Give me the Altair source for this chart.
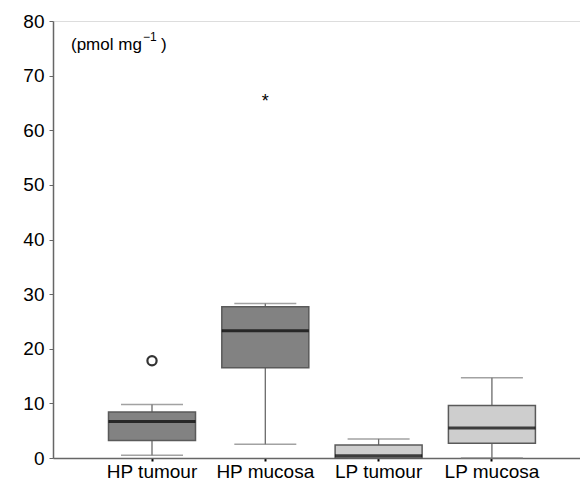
import altair as alt
import pandas as pd

groups = ["HP tumour", "HP mucosa", "LP tumour", "LP mucosa"]
whisker_low = [0.5, 2.5, 0.0, 0.0]
q1 = [3.2, 16.5, 0.0, 2.7]
median = [6.7, 23.3, 0.4, 5.5]
q3 = [8.4, 27.7, 2.4, 9.6]
whisker_high = [9.8, 28.3, 3.5, 14.7]
fills = ["#828282", "#828282", "#cecece", "#cecece"]

outlier_groups = ["HP tumour"]
outlier_values = [17.8]
extreme_groups = ["HP mucosa"]
extreme_values = [66.1]

unit_text = ["(pmol mg", "\u22121", ")"]

df = pd.DataFrame({
    "group": groups, "lo": whisker_low, "q1": q1, "med": median,
    "q3": q3, "hi": whisker_high, "fill": fills,
})
df_out = pd.DataFrame({"group": outlier_groups, "v": outlier_values})
df_ext = pd.DataFrame({"group": extreme_groups, "v": extreme_values})
one = pd.DataFrame({"k": [0]})

xenc = alt.X("group:N", sort=groups,
             scale=alt.Scale(domain=groups, paddingInner=0, paddingOuter=0.3256, align=0.574),
             axis=alt.Axis(title=None, labelAngle=0, labelFontSize=19, labelColor="black",
                           labelPadding=1, tickSize=3, tickColor="black", tickWidth=2,
                           domainColor="#666666", domainWidth=1.5,
                           labelFont="Liberation Sans"))
yscale = alt.Scale(domain=[0, 80], nice=False)
yaxis = alt.Axis(title=None, values=list(range(0, 81, 10)), grid=False, labelFontSize=19,
                 labelColor="black", labelPadding=5, tickSize=4, tickColor="#666666",
                 domainColor="#666666", domainWidth=1.5, labelFont="Liberation Sans")

base = alt.Chart(df)

whisk = base.mark_rule(color="#6a6a6a", strokeWidth=1.3).encode(
    x=xenc, y=alt.Y("lo:Q", scale=yscale, axis=yaxis), y2="hi:Q")
caps_hi = base.mark_tick(color="#7a7a7a", size=62, thickness=1.5).encode(
    x=xenc, y=alt.Y("hi:Q", scale=yscale))
caps_lo = base.mark_tick(color="#7a7a7a", size=62, thickness=1.5).encode(
    x=xenc, y=alt.Y("lo:Q", scale=yscale))
box = base.mark_bar(size=87, stroke="#5a5a5a", strokeWidth=1.5).encode(
    x=xenc, y=alt.Y("q1:Q", scale=yscale), y2="q3:Q",
    fill=alt.Fill("fill:N", scale=None, legend=None))
med = base.mark_tick(color="black", size=87, thickness=3).encode(
    x=xenc, y=alt.Y("med:Q", scale=yscale))

outl = alt.Chart(df_out).mark_point(shape="circle", filled=False, size=85,
                                     stroke="#333333", strokeWidth=2.2, opacity=1).encode(
    x=xenc, y=alt.Y("v:Q", scale=yscale))
ext = alt.Chart(df_ext).mark_text(text="*", fontSize=18, color="black", baseline="middle",
                                   dy=5, font="Liberation Sans").encode(
    x=xenc, y=alt.Y("v:Q", scale=yscale))

unit1 = alt.Chart(one).mark_text(text=unit_text[0], fontSize=17, align="left", baseline="alphabetic",
                                 font="Liberation Sans", color="black").encode(
    x=alt.value(18), y=alt.value(29))
unit2 = alt.Chart(one).mark_text(text=unit_text[1], fontSize=12, align="left", baseline="alphabetic",
                                 font="Liberation Sans", color="black").encode(
    x=alt.value(90), y=alt.value(20))
unit3 = alt.Chart(one).mark_text(text=unit_text[2], fontSize=17, align="left", baseline="alphabetic",
                                 font="Liberation Sans", color="black").encode(
    x=alt.value(108), y=alt.value(29))

chart = alt.layer(whisk, caps_hi, caps_lo, box, med, outl, ext, unit1, unit2, unit3).properties(
    width=527, height=437,
    autosize=alt.AutoSizeParams(type="none"),
    padding={"left": 45, "top": 13, "right": 0, "bottom": 24},
).configure_view(stroke="#666666", strokeWidth=1.5).configure(background="white")

chart.save("out.html", embed_options={"renderer": "svg", "actions": False})
